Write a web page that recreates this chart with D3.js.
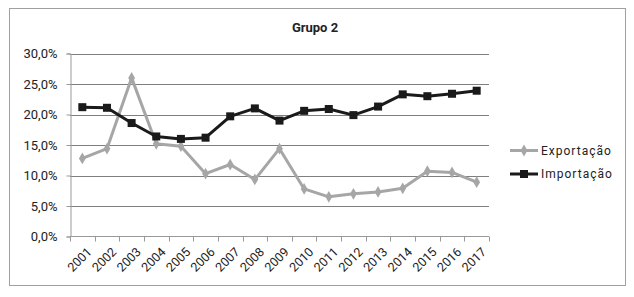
<!DOCTYPE html>
<html lang="pt">
<head>
<meta charset="UTF-8">
<title>Grupo 2</title>
<script src="https://d3js.org/d3.v7.min.js"></script>
<style>
  body { margin: 0; background: #fff; }
  text { font-family: "Roboto", "DejaVu Sans", sans-serif; fill: #222; }
</style>
</head>
<body>
<div id="chart"></div>
<script>
// data
var years = ["2001","2002","2003","2004","2005","2006","2007","2008","2009",
             "2010","2011","2012","2013","2014","2015","2016","2017"];
var exportacao = [12.8, 14.4, 26.0, 15.2, 14.8, 10.3, 11.8, 9.35, 14.4,
                  7.8, 6.5, 7.0, 7.3, 7.9, 10.7, 10.5, 8.9];
var importacao = [21.2, 21.1, 18.6, 16.4, 16.0, 16.2, 19.7, 21.0, 19.0,
                  20.6, 20.9, 19.9, 21.3, 23.3, 23.0, 23.4, 23.9];
var yTicks = [0, 5, 10, 15, 20, 25, 30];
var seriesNames = ["Exportação", "Importação"];

var W = 634, H = 297;
var svg = d3.select("#chart").append("svg")
    .attr("width", W).attr("height", H);

// outer frame
svg.append("rect")
    .attr("x", 9.5).attr("y", 8.5)
    .attr("width", 616).attr("height", 277)
    .attr("fill", "#fff").attr("stroke", "#a0a0a0");

var x = d3.scaleBand().domain(years).range([70, 489]);
var y = d3.scaleLinear().domain([0, 30]).range([236.5, 53.5]);

// title
svg.append("text")
    .attr("x", 315).attr("y", 32)
    .attr("text-anchor", "middle")
    .attr("font-size", 13).attr("font-weight", "bold")
    .text("Grupo 2");

// gridlines
svg.append("g").selectAll("line")
    .data(yTicks.filter(d => d > 0))
    .join("line")
    .attr("x1", 70).attr("x2", 489)
    .attr("y1", d => Math.round(y(d)) + 0.5).attr("y2", d => Math.round(y(d)) + 0.5)
    .attr("stroke", "#7f7f7f").attr("stroke-width", 1.2);

// y axis
var yAxis = d3.axisLeft(y).tickValues(yTicks).tickSize(4).tickPadding(9)
    .tickFormat(d => d3.format(".1f")(d).replace(".", ",") + "%");
var gy = svg.append("g").attr("transform", "translate(70.5,0)").call(yAxis);
gy.select(".domain").attr("stroke", "#999");
gy.selectAll(".tick line").attr("stroke", "#999");
gy.selectAll(".tick text").attr("font-size", 13).attr("fill", "#222")
    .attr("font-family", "Roboto, sans-serif");

// x axis with ticks at band edges
var gx = svg.append("g").attr("transform", "translate(0,236.5)");
gx.append("line").attr("x1", 70).attr("x2", 489).attr("stroke", "#999");
gx.selectAll("line.tk")
    .data(years.concat(["end"]))
    .join("line").attr("class", "tk")
    .attr("x1", (d, i) => Math.round(70 + i * x.bandwidth()) + 0.5)
    .attr("x2", (d, i) => Math.round(70 + i * x.bandwidth()) + 0.5)
    .attr("y1", 0).attr("y2", 5)
    .attr("stroke", "#999");
gx.selectAll("text")
    .data(years)
    .join("text")
    .attr("transform", d => "translate(" + (x(d) + x.bandwidth() / 2 + 4) + ",10) rotate(-45)")
    .attr("text-anchor", "end")
    .attr("dy", "0.7em")
    .attr("font-size", 12.5)
    .text(d => d);

var cx = d => x(d) + x.bandwidth() / 2;
var line = d3.line().x((d, i) => cx(years[i])).y(d => y(d));

// Exportação
svg.append("path").datum(exportacao)
    .attr("d", line).attr("fill", "none")
    .attr("stroke", "#a6a6a6").attr("stroke-width", 3).attr("stroke-linejoin", "round");
svg.append("g").selectAll("path")
    .data(exportacao).join("path")
    .attr("d", d3.symbol(d3.symbolDiamond, 40))
    .attr("transform", (d, i) => "translate(" + cx(years[i]) + "," + y(d) + ")")
    .attr("fill", "#a6a6a6");

// Importação
svg.append("path").datum(importacao)
    .attr("d", line).attr("fill", "none")
    .attr("stroke", "#1a1a1a").attr("stroke-width", 3).attr("stroke-linejoin", "round");
svg.append("g").selectAll("rect")
    .data(importacao).join("rect")
    .attr("x", (d, i) => cx(years[i]) - 4).attr("y", d => y(d) - 4)
    .attr("width", 8).attr("height", 8)
    .attr("fill", "#1a1a1a");

// legend
var colors = ["#a6a6a6", "#1a1a1a"];
var lg = svg.append("g");
seriesNames.forEach(function (name, i) {
  var ly = 150.5 + i * 23.5;
  lg.append("line").attr("x1", 510).attr("x2", 538).attr("y1", ly).attr("y2", ly)
      .attr("stroke", colors[i]).attr("stroke-width", 3);
  if (i === 0) {
    lg.append("path").attr("d", d3.symbol(d3.symbolDiamond, 40))
        .attr("transform", "translate(524," + ly + ")").attr("fill", colors[i]);
  } else {
    lg.append("rect").attr("x", 520).attr("y", ly - 4).attr("width", 8).attr("height", 8)
        .attr("fill", colors[i]);
  }
  lg.append("text").attr("x", 541).attr("y", ly).attr("dy", "0.35em")
      .attr("font-size", 12).attr("letter-spacing", "1px")
      .text(name);
});
</script>
</body>
</html>
